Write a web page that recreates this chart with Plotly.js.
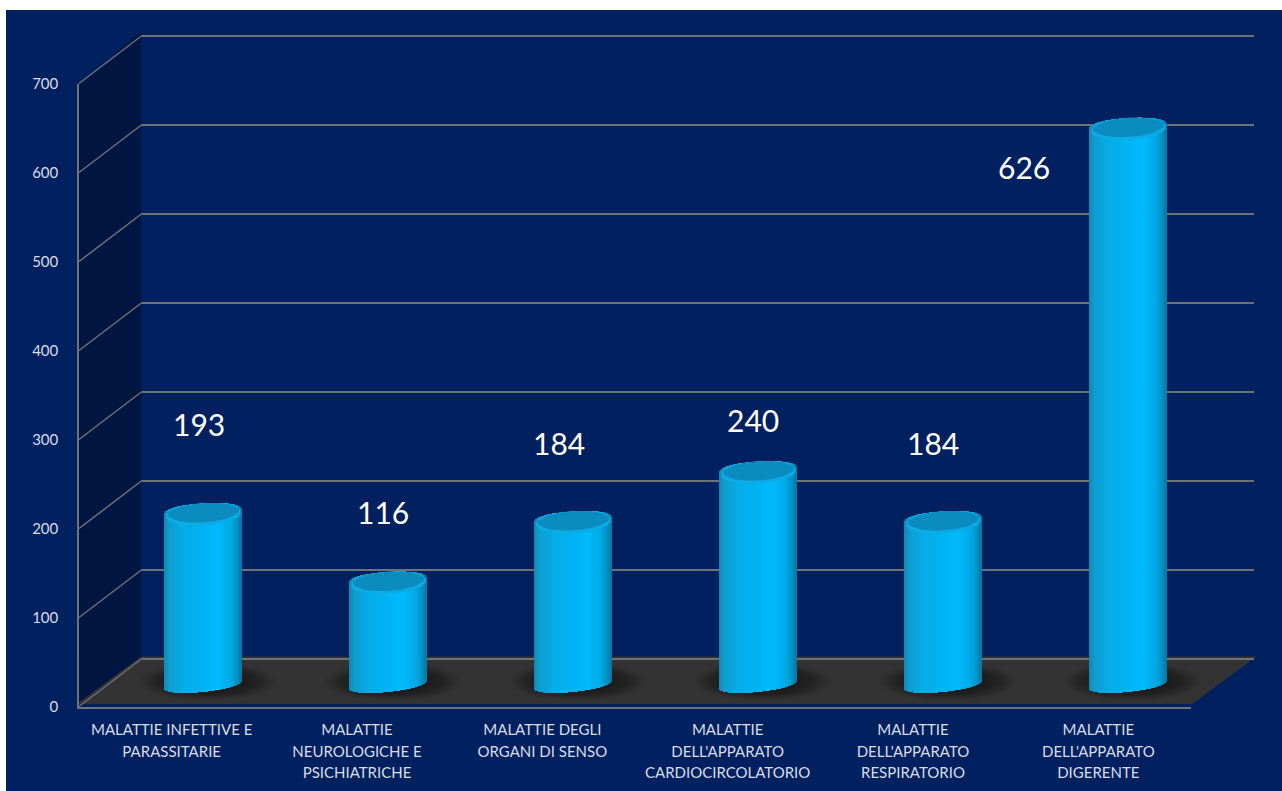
<!DOCTYPE html>
<html>
<head>
<meta charset="utf-8">
<script src="https://cdn.plot.ly/plotly-3.0.1.min.js"></script>
<style>html,body{margin:0;padding:0;background:#fff}#chart{width:1282px;height:791px}</style>
</head>
<body>
<div id="chart"></div>
<script>
// Chart content
const categoryLines = [
  ["MALATTIE INFETTIVE E", "PARASSITARIE"],
  ["MALATTIE", "NEUROLOGICHE E", "PSICHIATRICHE"],
  ["MALATTIE DEGLI", "ORGANI DI SENSO"],
  ["MALATTIE", "DELL'APPARATO", "CARDIOCIRCOLATORIO"],
  ["MALATTIE", "DELL'APPARATO", "RESPIRATORIO"],
  ["MALATTIE", "DELL'APPARATO", "DIGERENTE"]
];
const values = [193, 116, 184, 240, 184, 626];
const yTicks = [0, 100, 200, 300, 400, 500, 600, 700];

// Placement of the value labels relative to the top of each cylinder
const labelShiftPx = [-5, -6, -15, -6, -11, -105];
const labelLift = [100, 78, 87, 57, 87, -44];

// Page geometry, in pixels
const W = 1282, H = 791;
const fx = px => px / W;
const fy = px => 1 - px / H;
const pxPerUnit = 0.89;           // vertical pixels for one value unit
const pxPerCat = 185;             // horizontal pixels for one category

// The oblique 3D box is built from three parallel planes
const front = {x0: 79, x1: 1191, y0: 706.5};
const mid   = {x0: 111, x1: 1221, y0: 684.5};
const back  = {x0: 142, x1: 1254, y0: 658.5};
const planeDomainY = (p, low, high) => [fy(p.y0 - low * pxPerUnit), fy(p.y0 - high * pxPerUnit)];

// Cylinder shape and shading
const halfWidth = 38.5, footTilt = 0.1, capTilt = 0.06, capHeight = 10, footHeight = 7;
const shadeStops = [
  [-1.00, [20, 135, 180]], [-0.85, [14, 158, 208]], [-0.50, [6, 172, 232]],
  [ 0.05, [0, 180, 244]],  [ 0.40, [0, 186, 252]],  [ 0.75, [0, 168, 228]],
  [ 0.92, [4, 140, 190]],  [ 1.00, [10, 120, 162]]
];
function shade(t) {
  for (let k = 1; k < shadeStops.length; k++) {
    if (t <= shadeStops[k][0]) {
      const [a, ca] = shadeStops[k - 1], [b, cb] = shadeStops[k];
      const m = (t - a) / (b - a);
      const c = ca.map((v, j) => Math.round(v + (cb[j] - v) * m));
      return `rgb(${c[0]},${c[1]},${c[2]})`;
    }
  }
  return "rgb(10,120,162)";
}

// One-pixel vertical strips give each cylinder its shading and curved ends
const stripX = [], stripY = [], stripBase = [], stripColor = [];
values.forEach((v, i) => {
  for (let dx = -halfWidth + 0.5; dx < halfWidth; dx += 1) {
    const r = Math.sqrt(Math.max(0, 1 - (dx / halfWidth) ** 2));
    const upper = v + (capTilt * dx + capHeight * Math.pow(r, 0.7)) / pxPerUnit;
    const lower = (footTilt * dx - footHeight * r) / pxPerUnit;
    stripX.push(i + dx / pxPerCat);
    stripBase.push(lower);
    stripY.push(upper - lower);
    stripColor.push(shade(dx / halfWidth));
  }
});

const traces = [
  // Empty traces keep the back and front planes alive as subplots
  {type: "scatter", x: [], y: [], xaxis: "x", yaxis: "y", hoverinfo: "skip", showlegend: false},
  {
    type: "bar", x: stripX, y: stripY, base: stripBase, width: 1.02 / pxPerCat,
    xaxis: "x2", yaxis: "y2", cliponaxis: false, hoverinfo: "skip", showlegend: false,
    marker: {color: stripColor, line: {width: 0}}
  },
  {type: "scatter", x: [], y: [], xaxis: "x3", yaxis: "y3", hoverinfo: "skip", showlegend: false}
];

function pathOf(points) {
  return "M" + points.map(p => p[0].toFixed(2) + "," + p[1].toFixed(2)).join("L") + "Z";
}

// Tilted ellipse on the cylinder top, sized in pixels and placed by value
function capOutline(i, v, a, b, lift) {
  const pts = [];
  for (let k = 0; k < 60; k++) {
    const th = k / 60 * 2 * Math.PI;
    const dx = a * Math.cos(th);
    pts.push([i + dx / pxPerCat, v + (capTilt * dx + b * Math.sin(th) + lift) / pxPerUnit]);
  }
  return pathOf(pts);
}

// Paper-space polygons and lines of the box
const px = (x, y) => [fx(x), fy(y)];
const shapes = [
  {type: "rect", xref: "paper", yref: "paper", x0: fx(6), x1: 1, y0: fy(10), y1: 0, layer: "below",
   fillcolor: "#002060", line: {width: 0}},
  {type: "path", xref: "paper", yref: "paper", layer: "below", fillcolor: "#00153f", line: {width: 0},
   path: pathOf([px(front.x0, front.y0 - 700 * pxPerUnit), px(back.x0, back.y0 - 700 * pxPerUnit),
                 px(back.x0, back.y0), px(front.x0, front.y0)])},
  {type: "path", xref: "paper", yref: "paper", layer: "below", fillcolor: "#333333", line: {width: 0},
   path: pathOf([px(front.x0, front.y0), px(back.x0, back.y0), px(back.x1, back.y0), px(front.x1, front.y0)])}
];
yTicks.forEach(t => {
  shapes.push({type: "line", xref: "paper", yref: "paper", layer: "below",
    x0: fx(front.x0), y0: fy(front.y0 - t * pxPerUnit),
    x1: fx(back.x0), y1: fy(back.y0 - t * pxPerUnit),
    line: {color: "#6f7277", width: 1.5}});
});

// Soft contact shadows on the floor, then the rim and top face of each cylinder
values.forEach((v, i) => {
  const layers = 18;
  for (let k = 0; k < layers; k++) {
    const s = 1 - k / layers * 0.6;
    shapes.push({type: "circle", xref: "x2", yref: "y2", layer: "below",
      x0: i + (4 - 68 * s) / pxPerCat, x1: i + (4 + 68 * s) / pxPerCat,
      y0: (3 - 19 * s) / pxPerUnit, y1: (3 + 19 * s) / pxPerUnit,
      fillcolor: "rgba(0,0,0,0.028)", line: {width: 0}});
  }
  shapes.push({type: "path", xref: "x2", yref: "y2", layer: "above",
    path: capOutline(i, v, 37.5, 11, -1.5), fillcolor: "#0cabe6", line: {width: 0}});
  shapes.push({type: "path", xref: "x2", yref: "y2", layer: "above",
    path: capOutline(i, v, 35, 9.5, 0), fillcolor: "#0a8cbe", line: {width: 0}});
});

// Value labels are real text tied to the values
const annotations = values.map((v, i) => ({
  xref: "x2", yref: "y2", x: i + labelShiftPx[i] / pxPerCat, y: v + labelLift[i],
  text: String(v), showarrow: false, xanchor: "center", yanchor: "middle",
  font: {family: "Lato, sans-serif", size: 30, color: "#ffffff"}
}));

// The axis font sets the line spacing; the span sets the glyph size
const categoryText = categoryLines.map(lines =>
  lines.map(l => `<span style="font-size:15px">${l}</span>`).join("<br>"));

const hiddenX = {visible: false, range: [-0.5, 5.5], fixedrange: true};
const layout = {
  width: W, height: H,
  margin: {l: 0, r: 0, t: 0, b: 0, pad: 0},
  paper_bgcolor: "#ffffff", plot_bgcolor: "rgba(0,0,0,0)",
  showlegend: false, bargap: 0, barmode: "overlay",
  font: {family: "Lato, sans-serif", color: "#d9dde6"},
  // Back wall: carries the horizontal grid
  xaxis: Object.assign({}, hiddenX, {domain: [fx(back.x0), fx(back.x1)], anchor: "y"}),
  yaxis: {domain: planeDomainY(back, -10, 710), range: [-10, 710], anchor: "x", tickvals: yTicks,
          showticklabels: false, ticks: "", showline: false, zeroline: false,
          showgrid: true, gridcolor: "#6f7277", gridwidth: 1.5, fixedrange: true},
  // Middle plane: the cylinders stand here
  xaxis2: Object.assign({}, hiddenX, {domain: [fx(mid.x0), fx(mid.x1)], anchor: "y2"}),
  yaxis2: {domain: planeDomainY(mid, -40, 700), range: [-40, 700], anchor: "x2", visible: false, fixedrange: true},
  // Front plane: carries both axis lines and all tick labels
  xaxis3: {domain: [fx(front.x0), fx(front.x1)], range: [-0.5, 5.5], anchor: "y3",
           tickmode: "array", tickvals: categoryText.map((c, i) => i), ticktext: categoryText, tickangle: 0,
           ticks: "", ticklabelstandoff: 7, showgrid: false, zeroline: false,
           showline: true, linecolor: "#6f7277", linewidth: 2, fixedrange: true,
           tickfont: {family: "Lato, sans-serif", size: 16.5, color: "#d9dde6"}},
  yaxis3: {domain: planeDomainY(front, 0, 700), range: [0, 700], anchor: "x3",
           tickvals: yTicks, ticks: "", ticklabelstandoff: 16, showgrid: false, zeroline: false,
           showline: true, linecolor: "#6f7277", linewidth: 1.5, fixedrange: true,
           tickfont: {family: "Lato, sans-serif", size: 15, color: "#d9dde6"}},
  shapes: shapes,
  annotations: annotations
};

Plotly.newPlot("chart", traces, layout, {displayModeBar: false, responsive: false});
</script>
</body>
</html>
